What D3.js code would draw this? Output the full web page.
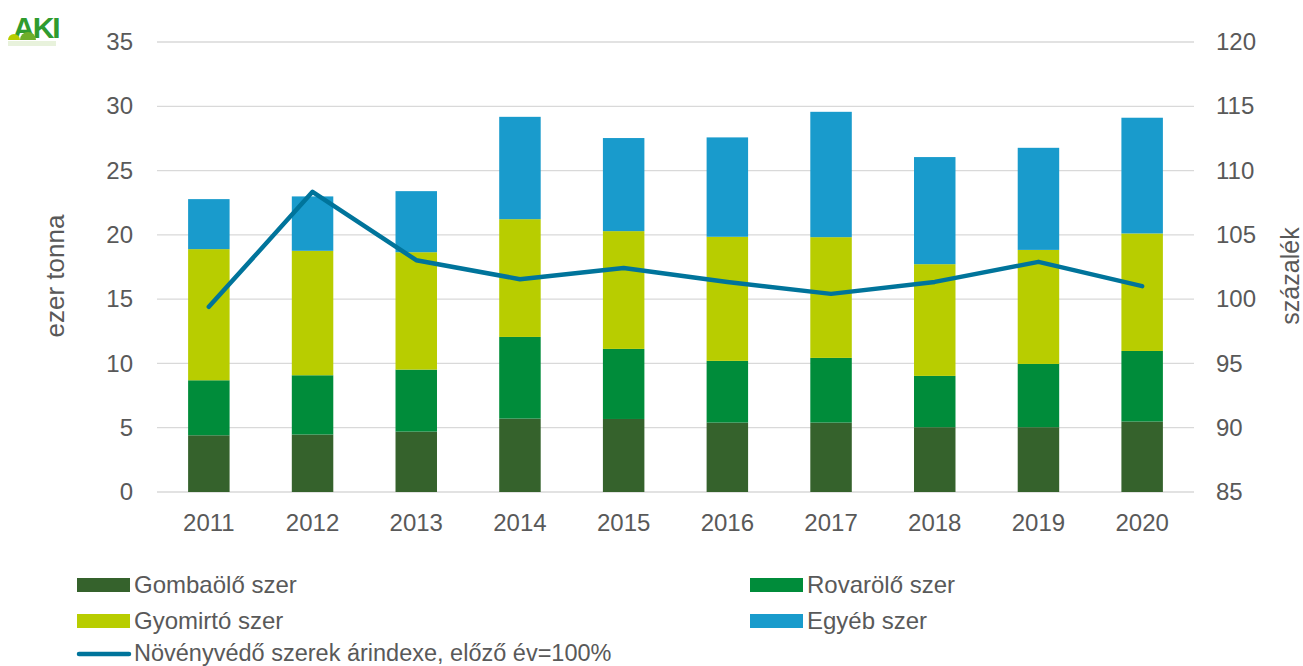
<!DOCTYPE html>
<html><head><meta charset="utf-8">
<script src="https://cdn.jsdelivr.net/npm/d3@7"></script>
<style>body{margin:0;background:#fff}svg{display:block;font-family:"Liberation Sans",Arial,sans-serif}</style>
</head><body><svg id="c" width="1303" height="666"></svg>
<script>
const years = ["2011","2012","2013","2014","2015","2016","2017","2018","2019","2020"];
const gombaolo = [4.41,4.47,4.70,5.71,5.68,5.40,5.40,5.04,5.04,5.48];
const rovarolo = [4.28,4.61,4.82,6.35,5.45,4.80,5.03,3.99,4.92,5.49];
const gyomirto = [10.20,9.68,9.13,9.16,9.16,9.65,9.39,8.69,8.87,9.14];
const egyeb = [3.89,4.23,4.75,7.96,7.24,7.73,9.75,8.33,7.94,9.00];
const arindex = [99.4,108.35,103.03,101.55,102.43,101.34,100.41,101.34,102.9,101.01];
const leftTicks = [0,5,10,15,20,25,30,35];
const rightTicks = [85,90,95,100,105,110,115,120];
const seriesNames = ["Gombaölő szer","Rovarölő szer","Gyomirtó szer","Egyéb szer"];
const seriesColors = ["#35622c","#008c3a","#b8cd00","#199bcc"];
const lineName = "Növényvédő szerek árindexe, előző év=100%";
const lineColor = "#00749b";

const svg = d3.select("#c");
const L = 157, R = 1194, T = 42, B = 492;
const FS = 24;
const x = d3.scaleBand().domain(years).range([L, R]).paddingInner(0.6).paddingOuter(0.3);
const y = d3.scaleLinear().domain([0,35]).range([B,T]);
const y2 = d3.scaleLinear().domain([85,120]).range([B,T]);
const textCol = "#595959";

// gridlines
svg.append("g").selectAll("line").data(leftTicks).join("line")
  .attr("x1", L).attr("x2", R).attr("y1", d=>y(d)).attr("y2", d=>y(d))
  .attr("stroke", "#d9d9d9").attr("stroke-width", 1.3);

function styleAxis(g){
  g.select(".domain").remove();
  g.selectAll("text").attr("font-size", FS).attr("fill", textCol).attr("font-family","Liberation Sans, Arial, sans-serif");
}
svg.append("g").attr("transform", `translate(${L},0)`)
  .call(d3.axisLeft(y).tickValues(leftTicks).tickSize(0).tickPadding(24)).call(styleAxis);
svg.append("g").attr("transform", `translate(${R},0)`)
  .call(d3.axisRight(y2).tickValues(rightTicks).tickSize(0).tickPadding(22)).call(styleAxis);
svg.append("g").attr("transform", `translate(0,${B})`)
  .call(d3.axisBottom(x).tickSize(0).tickPadding(22)).call(styleAxis);

// stacked bars
const rows = years.map((yr,i)=>({year:yr, s0:gombaolo[i], s1:rovarolo[i], s2:gyomirto[i], s3:egyeb[i]}));
const stack = d3.stack().keys(["s0","s1","s2","s3"])(rows);
svg.append("g").selectAll("g").data(stack).join("g")
  .attr("fill", (d,i)=>seriesColors[i])
  .selectAll("rect").data(d=>d).join("rect")
  .attr("x", d=>x(d.data.year)).attr("width", x.bandwidth())
  .attr("y", d=>y(d[1])).attr("height", d=>y(d[0])-y(d[1]));

// line
const line = d3.line().x((d,i)=>x(years[i])+x.bandwidth()/2).y(d=>y2(d));
svg.append("path").datum(arindex).attr("d", line).attr("fill","none")
  .attr("stroke", lineColor).attr("stroke-width", 4.5).attr("stroke-linejoin","round").attr("stroke-linecap","round");

// axis titles
svg.append("text").attr("transform", `translate(64,276) rotate(-90)`).attr("text-anchor","middle")
  .attr("font-size", 26).attr("fill", textCol).text("ezer tonna");
svg.append("text").attr("transform", `translate(1299,276) rotate(-90)`).attr("text-anchor","middle")
  .attr("font-size", 25).attr("fill", textCol).text("százalék");

// legend
const leg = [
  {name:seriesNames[0], color:seriesColors[0], x:77, y:585},
  {name:seriesNames[1], color:seriesColors[1], x:750, y:585},
  {name:seriesNames[2], color:seriesColors[2], x:77, y:621},
  {name:seriesNames[3], color:seriesColors[3], x:750, y:621}
];
const lg = svg.append("g");
leg.forEach(d=>{
  lg.append("rect").attr("x", d.x).attr("y", d.y-7).attr("width", 53).attr("height", 14).attr("fill", d.color);
  lg.append("text").attr("x", d.x+57).attr("y", d.y).attr("dy","0.35em").attr("font-size", FS).attr("fill", textCol).text(d.name);
});
lg.append("line").attr("x1", 79).attr("x2", 129).attr("y1", 654).attr("y2", 654)
  .attr("stroke", lineColor).attr("stroke-width", 4.5).attr("stroke-linecap","round");
lg.append("text").attr("x", 134).attr("y", 653).attr("dy","0.35em").attr("font-size", 23.5).attr("fill", textCol).text(lineName);

// logo
const logo = svg.append("g");
logo.append("text").attr("x", 13).attr("y", 38).attr("font-size", 30).attr("font-weight", "bold")
  .attr("fill", "#2f9b2f").attr("letter-spacing", -2).text("AKI");
logo.append("circle").attr("cx", 28).attr("cy", 40).attr("r", 8).attr("fill", "#6fae2a");
logo.append("circle").attr("cx", 14).attr("cy", 40).attr("r", 6).attr("fill", "#b8cd00");
logo.append("rect").attr("x", 5).attr("y", 40).attr("width", 55).attr("height", 12).attr("fill", "#fff");
logo.append("rect").attr("x", 8).attr("y", 41).attr("width", 48).attr("height", 5).attr("fill", "#e8f2dc");
</script>
</body></html>
